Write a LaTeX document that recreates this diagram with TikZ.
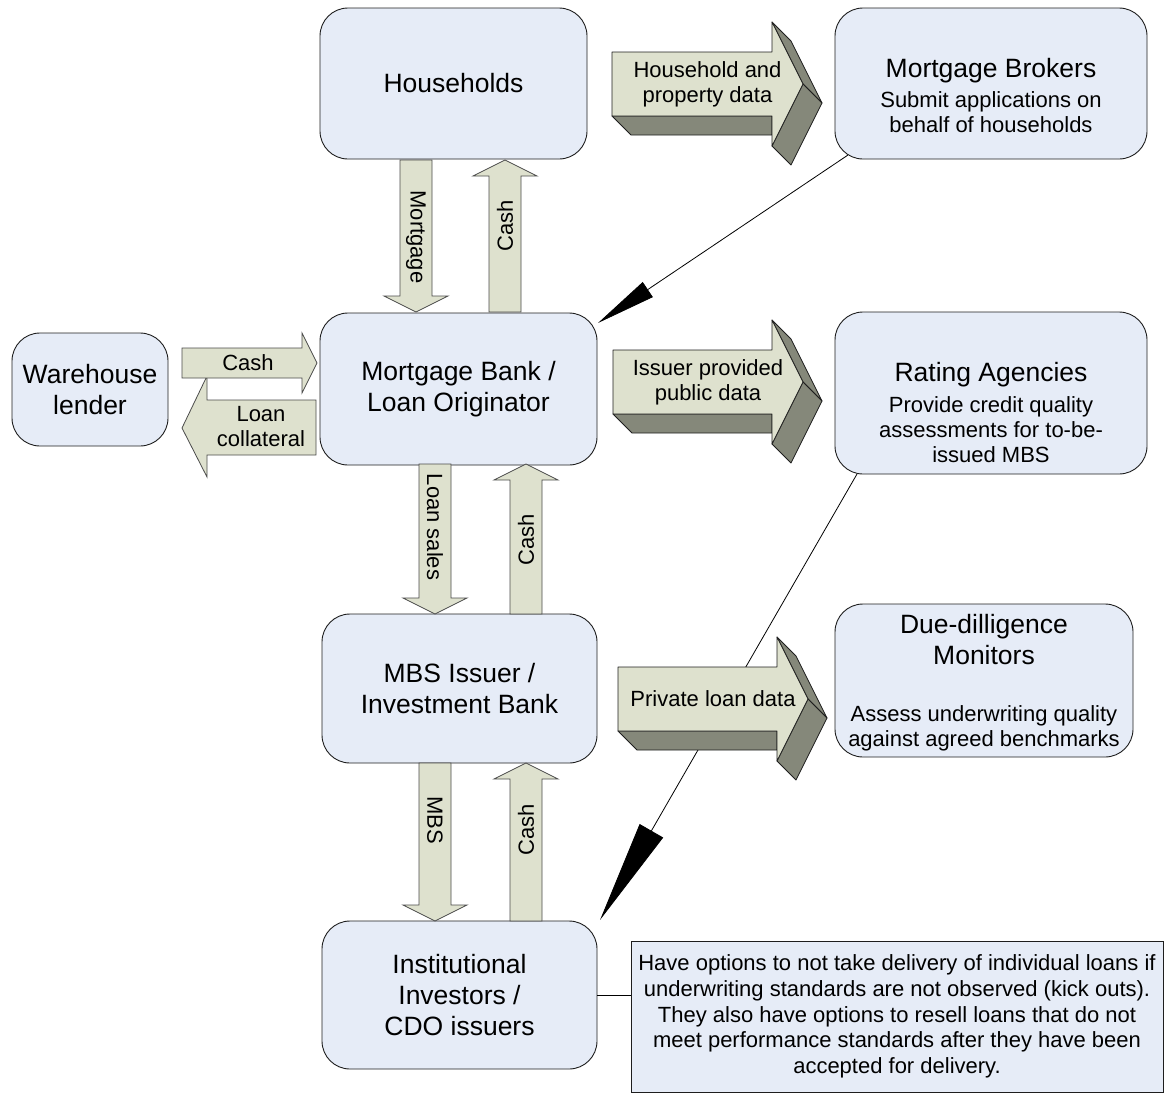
\documentclass[tikz,border=0pt]{standalone}
\usepackage{fontspec}
\setmainfont{Liberation Sans}
\usetikzlibrary{arrows.meta}
\definecolor{boxfill}{RGB}{230,236,247}
\definecolor{alight}{RGB}{222,225,206}
\definecolor{adark}{RGB}{133,136,122}
\definecolor{edgec}{RGB}{30,30,30}
\newcommand\ttlfont{\fontsize{26.5}{31}\selectfont}
\newcommand\smlfont{\fontsize{22}{25}\selectfont}
\newcommand\notefont{\fontsize{22}{25.7}\selectfont}

% name, x0, xh, xt, yc, text
\newcommand\blockarrow[6]{%
  \pgfmathsetmacro\bat{#5-32}\pgfmathsetmacro\bab{#5+32}%
  \pgfmathsetmacro\baht{#5-62}\pgfmathsetmacro\bahb{#5+62}%
  \draw[arrside] (#3,\baht) -- ++(19,19) -- ({#4+19},{#5+19}) -- (#4,#5) -- cycle;
  \draw[arrside] (#4,#5) -- ++(19,19) -- ({#3+19},{\bahb+19}) -- (#3,\bahb) -- cycle;
  \draw[arrside] (#2,\bab) -- ++(19,19) -- (#3,{\bab+19}) -- (#3,\bab) -- cycle;
  \draw[arrface] (#2,\bat) -- (#3,\bat) -- (#3,\baht) -- (#4,#5) -- (#3,\bahb) -- (#3,\bab) -- (#2,\bab) -- cycle;
  \node[arrtext] (#1) at ({(#2+#4)/2},#5) {#6};
}

\begin{document}
\begin{tikzpicture}[x=1pt,y=-1pt,
  box/.style={draw=edgec, fill=boxfill, rounded corners=28pt, line width=0.9pt, align=center, font=\ttlfont, inner sep=0pt},
  title/.style={align=center, font=\ttlfont, inner sep=0pt},
  sub/.style={align=center, font=\smlfont, inner sep=0pt},
  arrside/.style={fill=adark, draw=edgec, line width=0.8pt, line join=round},
  arrface/.style={fill=alight, draw=edgec, line width=0.8pt, line join=round},
  arrtext/.style={align=center, font=\smlfont, inner sep=0pt},
  flat/.style={fill=alight, draw=edgec!80, line width=0.8pt, line join=miter},
  flatlabel/.style={font=\smlfont, inner sep=0pt},
  conn/.style={draw=black, line width=0.8pt}
]
\useasboundingbox (0,0) rectangle (1172,1093);

% boxes
\node[box, minimum width=267pt, minimum height=151pt] (hh) at (453.5,83.5) {Households};
\node[box, minimum width=312pt, minimum height=151pt] (brok) at (991,83.5) {};
\node[title] (brokt) at (991,71) {Mortgage Brokers};
\node[sub] (broks) at (991,112) {Submit applications on\\behalf of households};
\node[box, minimum width=156pt, minimum height=113pt] (wh) at (90,389.5) {Warehouse\\lender};
\node[box, minimum width=277pt, minimum height=152pt] (mb) at (458.5,389) {Mortgage Bank /\\Loan Originator};
\node[box, minimum width=312pt, minimum height=162pt] (rat) at (991,393) {};
\node[title] (ratt) at (991,375) {Rating Agencies};
\node[sub] (rats) at (991,430) {Provide credit quality\\assessments for to-be-\\issued MBS};
\node[box, minimum width=275pt, minimum height=149pt] (mbs) at (459.5,688.5) {MBS Issuer /\\Investment Bank};
\node[box, minimum width=298pt, minimum height=153pt] (due) at (984,680.5) {};
\node[title] (duet) at (984,640) {Due-dilligence\\Monitors};
\node[sub] (dues) at (984,728) {Assess underwriting quality\\against agreed benchmarks};
\node[box, minimum width=275pt, minimum height=148pt] (inst) at (459.5,995) {Institutional\\Investors /\\CDO issuers};
\node[draw=edgec, fill=boxfill, line width=0.9pt, minimum width=532pt, minimum height=151pt, align=center, font=\notefont, inner sep=0pt] (note) at (897,1016.5)
  {Have options to not take delivery of individual loans if\\underwriting standards are not observed (kick outs).\\They also have options to resell loans that do not\\meet performance standards after they have been\\accepted for delivery.};

% thin connectors with large heads
\coordinate (c1s) at (848,155);
\coordinate (c1e) at (598,323);
\coordinate (c2s) at (857,474);
\coordinate (c2e) at (600,920);
\draw[conn, -{Triangle[length=60pt,width=18pt]}] (c1s) -- (c1e);
\draw[conn, -{Triangle[length=103pt,width=27pt]}] (c2s) -- (c2e);
\draw[conn, line width=0.6pt] (inst.east) -- (inst.east -| note.west);

% 3D block arrows
\blockarrow{a1}{612}{772}{803}{84}{Household and\\property data}
\blockarrow{a2}{613}{772}{803}{382}{Issuer provided\\public data}
\blockarrow{a3}{618}{777}{808}{699}{Private loan data}

% vertical flat arrows
\draw[flat] (400,160) -- (432,160) -- (432,296) -- (448,296) -- (416,312) -- (384,296) -- (400,296) -- cycle;
\node[flatlabel, rotate=-90] (lmort) at (416,237) {Mortgage};
\draw[flat] (489,312) -- (521,312) -- (521,176) -- (537,176) -- (505,160) -- (473,176) -- (489,176) -- cycle;
\node[flatlabel, rotate=90] (lcash1) at (505,226) {Cash};
\draw[flat] (419,464) -- (451,464) -- (451,598) -- (467,598) -- (435,614) -- (403,598) -- (419,598) -- cycle;
\node[flatlabel, rotate=-90] (lsales) at (435,527) {Loan sales};
\draw[flat] (510,614) -- (542,614) -- (542,480) -- (558,480) -- (526,464) -- (494,480) -- (510,480) -- cycle;
\node[flatlabel, rotate=90] (lcash2) at (526,540) {Cash};
\draw[flat] (419,763) -- (451,763) -- (451,905) -- (467,905) -- (435,921) -- (403,905) -- (419,905) -- cycle;
\node[flatlabel, rotate=-90] (lmbs) at (435,820) {MBS};
\draw[flat] (510,921) -- (542,921) -- (542,779) -- (558,779) -- (526,763) -- (494,779) -- (510,779) -- cycle;
\node[flatlabel, rotate=90] (lcash3) at (526,830) {Cash};

% horizontal flat arrows (warehouse)
\draw[flat] (316,400) -- (207,400) -- (207,376) -- (182,428) -- (207,477) -- (207,455) -- (316,455) -- cycle;
\node[flatlabel, align=center, font=\fontsize{22}{25}\selectfont] (lcoll) at (261,427) {Loan\\collateral};
\draw[flat] (182,348) -- (302,348) -- (302,333) -- (317,363) -- (302,393) -- (302,378) -- (182,378) -- cycle;
\node[flatlabel] (lcashw) at (248,363) {Cash};
\end{tikzpicture}
\end{document}
